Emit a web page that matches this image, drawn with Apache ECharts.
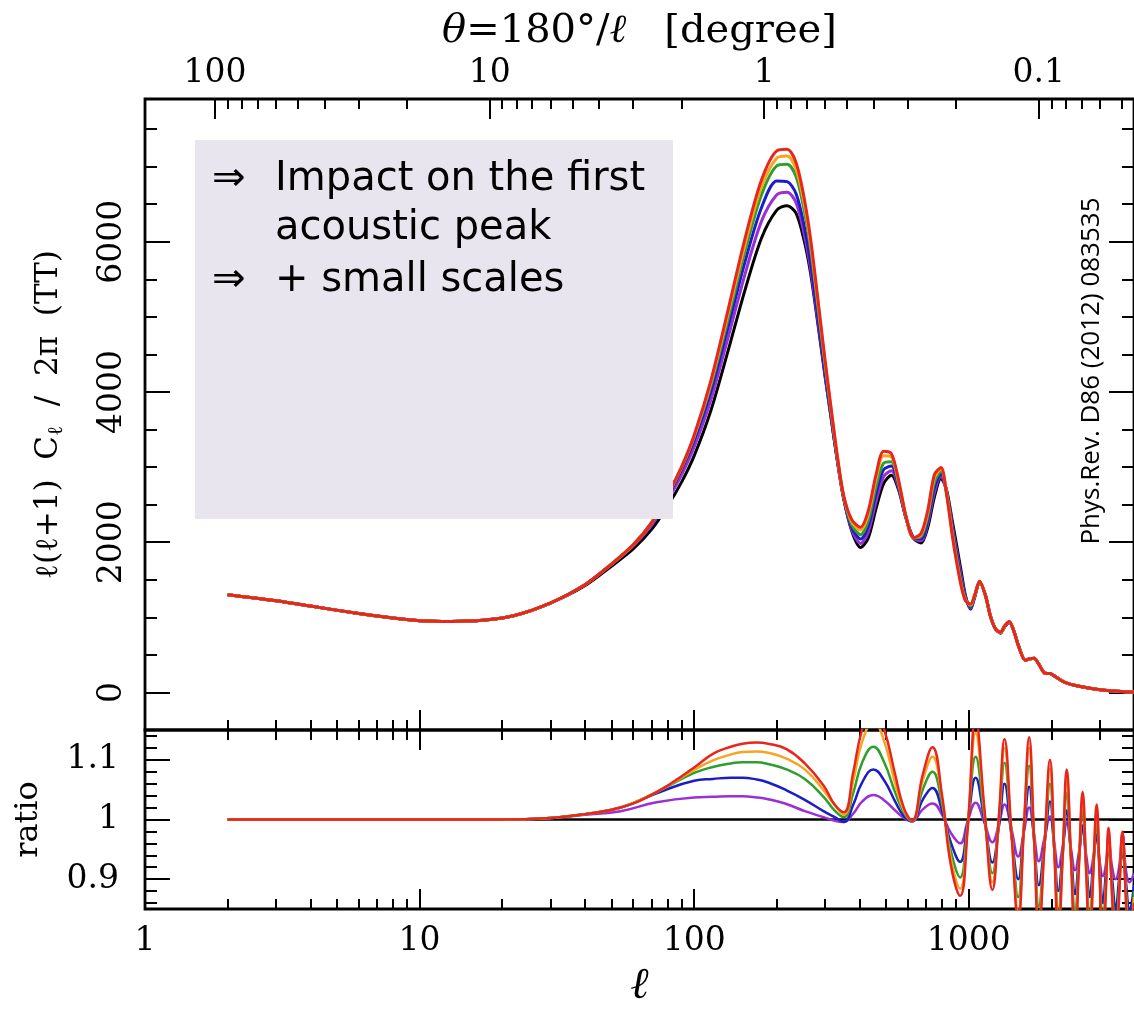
<!DOCTYPE html>
<html>
<head>
<meta charset="utf-8">
<script src="https://cdn.jsdelivr.net/npm/echarts@6/dist/echarts.min.js"></script>
<style>
  html, body { margin: 0; padding: 0; background: #fff; }
  #chart { width: 1134px; height: 1010px; }
</style>
</head>
<body>
<div id="chart"></div>
<script>
// ---- TT spectra l(l+1)C_l/2pi, upper panel ----
const ellSpec = [2,3,4,6,8,10,13,17,22,30, 40,50,60,70,80,90,100,115,133,153,
  176,200,218,235,251,265,280,300,315,332, 350,375,404,430,460,490,523,555,590,630,
  671,710,750,793,830,870,900,940,975,1016, 1050,1096,1150,1200,1250,1305,1350,1405,1460,1520,
  1608,1670,1730,1800,1897,1980,2050,2240,2500,2800, 3200,3700,4000];

const dlBlack = [1300,1220,1150,1050,990,955,945,960,1020,1190, 1420,1680,1910,2170,2480,2800,3150,3750,4550,5350,
  6050,6420,6480,6380,6030,5600,5000,4200,3670,3100, 2600,2150,1930,2050,2450,2780,2890,2700,2330,2050,
  1990,2200,2600,2850,2700,2300,2000,1600,1280,1110, 1260,1470,1300,1020,850,790,870,935,820,620,
  430,445,455,380,255,250,220,135,85,53, 25,10,5];

const dlPurple = [1300,1220,1150,1050,990,955,945,960,1020,1190, 1431,1704,1950,2228,2559,2898,3267,3893,4727,5559,
  6274,6625,6660,6520,6120,5660,5040,4220,3672,3094, 2590,2167,1984,2126,2548,2872,2951,2727,2335,2052,
  2018,2251,2665,2879,2687,2243,1932,1539,1261,1121, 1266,1472,1298,1018,850,792,873,937,820,618,
  430,446,455,379,255,250,220,135,85,53, 25,10,5];

const dlBlue = [1300,1220,1150,1050,990,955,945,960,1020,1190, 1433,1709,1963,2256,2611,2968,3355,4005,4869,5725,
  6455,6810,6800,6640,6230,5740,5100,4250,3690,3100, 2590,2197,2042,2204,2651,2966,3014,2754,2339,2054,
  2046,2301,2730,2907,2673,2199,1880,1493,1248,1138, 1272,1474,1296,1017,849,794,876,938,819,617,
  430,447,455,378,255,250,220,135,85,53, 25,10,5];

const dlGreen = [1300,1220,1150,1050,990,955,945,960,1020,1190, 1433,1709,1965,2260,2624,2990,3396,4080,4973,5864,
  6625,7010,7030,6870,6440,5930,5240,4345,3750,3128, 2610,2232,2100,2276,2744,3052,3072,2781,2346,2056,
  2074,2354,2798,2944,2673,2162,1830,1453,1235,1149, 1278,1476,1294,1015,848,796,879,940,818,615,
  430,448,455,377,255,251,219,135,85,53, 25,10,5];

const dlOrange = [1300,1220,1150,1050,990,955,945,960,1020,1190, 1433,1709,1965,2260,2626,2998,3411,4118,5046,5955,
  6734,7113,7140,6970,6530,6000,5300,4390,3780,3150, 2621,2268,2162,2358,2842,3150,3136,2808,2353,2058,
  2099,2398,2860,2978,2660,2128,1790,1424,1222,1166, 1285,1478,1292,1012,848,798,882,943,816,612,
  430,449,455,376,255,251,219,135,85,53, 25,10,5];

const dlRed = [1300,1220,1150,1050,990,955,945,960,1020,1192, 1433,1709,1965,2261,2629,3004,3424,4148,5096,6035,
  6824,7210,7230,7056,6603,6065,5350,4418,3802,3162, 2631,2300,2200,2409,2903,3211,3179,2835,2358,2060,
  2119,2431,2899,2993,2646,2105,1770,1408,1216,1177, 1290,1480,1290,1010,850,800,885,945,815,610,
  430,450,455,375,255,252,218,135,85,53, 25,10,5];

// ---- ratio to the reference spectrum, lower panel ----
const ellRatio = [2,10,20,29,40,54,73,100,117,136, 150,169,186,217,253,296,325,351,380,409,
  450,493,540,580,622,680,738,800,860,931, 990,1060,1140,1220,1290,1350,1430,1515,1590,1660,
  1730,1800,1890,1977,2050,2120,2200,2275,2360,2440, 2520,2600,2680,2760,2840,2925,3000,3080,3160,3230,
  3330,3430,3530,3630,3740,3850,4000];

const ratioPurple = [1,1,1,1.002,1.008,1.014,1.029,1.037,1.038,1.039, 1.039,1.037,1.034,1.026,1.014,1.004,0.998,0.996,1.010,1.030,
  1.041,1.032,1.015,1.003,0.997,1.017,1.027,1.008,0.978,0.960, 0.996,1.028,0.995,0.962,0.993,1.025,0.985,0.938,0.980,1.020,
  0.975,0.930,0.970,1.005,0.960,0.920,0.955,0.995,0.950,0.915, 0.945,0.985,0.940,0.910,0.935,0.975,0.930,0.905,0.925,0.965,
  0.920,0.900,0.920,0.975,0.915,0.895,0.910];

const ratioBlue = [1,1,1,1.002,1.009,1.020,1.044,1.065,1.068,1.070, 1.070,1.067,1.062,1.049,1.033,1.014,1.004,0.996,1.025,1.062,
  1.084,1.065,1.030,1.006,0.997,1.033,1.053,1.015,0.962,0.929, 0.993,1.070,1.000,0.928,0.990,1.060,0.975,0.900,0.985,1.055,
  0.965,0.890,0.960,1.030,0.950,0.880,0.945,1.015,0.940,0.875, 0.935,0.990,0.925,0.870,0.925,0.975,0.920,0.860,0.910,0.950,
  0.900,0.850,0.900,0.945,0.895,0.845,0.890];

const ratioGreen = [1,1,1,1.002,1.009,1.020,1.046,1.078,1.088,1.094, 1.096,1.096,1.093,1.084,1.068,1.038,1.015,1.004,1.045,1.095,
  1.122,1.095,1.045,1.012,0.997,1.050,1.080,1.025,0.948,0.903, 0.990,1.105,1.005,0.910,1.000,1.095,0.980,0.870,0.990,1.090,
  0.970,0.855,0.960,1.060,0.950,0.845,0.940,1.045,0.935,0.840, 0.930,1.015,0.920,0.830,0.915,0.995,0.910,0.820,0.895,0.960,
  0.885,0.810,0.885,0.955,0.880,0.800,0.880];

const ratioOrange = [1,1,1,1.002,1.009,1.020,1.046,1.083,1.099,1.109, 1.113,1.114,1.112,1.102,1.084,1.049,1.024,1.008,1.065,1.130,
  1.165,1.130,1.060,1.016,0.998,1.065,1.105,1.035,0.935,0.884, 0.985,1.145,1.015,0.895,1.005,1.120,0.980,0.845,0.990,1.120,
  0.970,0.830,0.960,1.085,0.950,0.820,0.940,1.070,0.930,0.810, 0.925,1.035,0.915,0.800,0.910,1.015,0.905,0.790,0.885,0.975,
  0.875,0.780,0.875,0.970,0.870,0.770,0.870];

const ratioRed = [1,1,1,1.002,1.009,1.020,1.046,1.087,1.110,1.122, 1.127,1.129,1.127,1.118,1.094,1.057,1.025,1.012,1.080,1.150,
  1.190,1.150,1.075,1.020,0.998,1.075,1.121,1.040,0.925,0.872, 0.980,1.170,1.020,0.882,1.010,1.135,0.980,0.830,0.990,1.138,
  0.970,0.810,0.960,1.100,0.950,0.800,0.940,1.084,0.930,0.790, 0.920,1.046,0.910,0.780,0.905,1.025,0.900,0.770,0.880,0.986,
  0.870,0.760,0.870,0.980,0.860,0.750,0.860];

const ellRatioRef = [2, 4000];
const ratioBlack = [1, 1];

// ---- tick positions ----
const ellMajorTicks = [1, 10, 100, 1000];
const ellMinorTicks = [2,3,4,5,6,7,8,9, 20,30,40,50,60,70,80,90, 200,300,400,500,600,700,800,900, 2000,3000,4000];
const thetaMajorTicks = [100, 10, 1, 0.1];
const thetaMinorTicks = [90,80,70,60,50,40,30,20, 9,8,7,6,5,4,3,2, 0.9,0.8,0.7,0.6,0.5,0.4,0.3,0.2, 0.09,0.08,0.07,0.06,0.05];
const dlMajorTicks = [0, 2000, 4000, 6000];
const dlMinorTicks = [500,1000,1500,2500,3000,3500,4500,5000,5500,6500,7000,7500];
const ratioMajorTicks = [0.9, 1, 1.1];
const ratioMinorTicks = [0.86,0.88,0.92,0.94,0.96,0.98,1.02,1.04,1.06,1.08,1.12,1.14];

const SERIF = 'DejaVu Serif';
const INK = '#000';
const LONG = 20, SHORT = 10, Y_LONG = 25, Y_SHORT = 12;
const ELL_MAX = 4000;

// theta = 180 deg / l, so a tick at angle t sits at multipole 180/t
const thetaToEll = t => 180 / t;

function xTickAxis(gridIndex, position, values, length, extra) {
  return Object.assign({
    gridIndex, position, type: 'log', logBase: 10, min: 1, max: ELL_MAX,
    axisLine: { show: false, onZero: false },
    splitLine: { show: false },
    axisTick: { show: true, inside: true, length, customValues: values, lineStyle: { color: INK, width: 2 } },
    axisLabel: { show: false }
  }, extra || {});
}

function yTickAxis(gridIndex, position, min, max, values, length, extra) {
  return Object.assign({
    gridIndex, position, type: 'value', min, max,
    axisLine: { show: false, onZero: false },
    splitLine: { show: false },
    axisTick: { show: true, inside: true, length, customValues: values, lineStyle: { color: INK, width: 2 } },
    axisLabel: { show: false }
  }, extra || {});
}

const labelFont = { fontFamily: SERIF, fontSize: 33, color: INK };

const xAxes = [
  // upper panel, bottom edge (data axis)
  xTickAxis(0, 'bottom', ellMajorTicks, LONG),
  xTickAxis(0, 'bottom', ellMinorTicks, SHORT),
  // upper panel, top edge: angular scale
  xTickAxis(0, 'top', thetaMajorTicks.map(thetaToEll), LONG, {
    axisLabel: Object.assign({
      show: true, margin: 9,
      customValues: thetaMajorTicks.map(thetaToEll),
      formatter: v => String(parseFloat((180 / v).toPrecision(6)))
    }, labelFont),
    name: '{it|θ}=180°/{it|ℓ}   [degree]',
    nameLocation: 'middle',
    nameGap: 47,
    nameTextStyle: {
      fontFamily: SERIF, fontSize: 40, color: INK,
      rich: { it: { fontFamily: SERIF, fontSize: 40, fontStyle: 'italic', color: INK } }
    }
  }),
  xTickAxis(0, 'top', thetaMinorTicks.map(thetaToEll), SHORT),
  // lower panel, bottom edge (data axis)
  xTickAxis(1, 'bottom', ellMajorTicks, LONG, {
    axisLabel: Object.assign({
      show: true, margin: 16,
      customValues: ellMajorTicks,
      formatter: v => String(Math.round(v))
    }, labelFont),
    name: 'ℓ',
    nameLocation: 'middle',
    nameGap: 56,
    nameTextStyle: { fontFamily: SERIF, fontSize: 44, fontStyle: 'italic', color: INK }
  }),
  xTickAxis(1, 'bottom', ellMinorTicks, SHORT),
  xTickAxis(1, 'top', ellMajorTicks, LONG),
  xTickAxis(1, 'top', ellMinorTicks, SHORT)
];

const DL_MIN = -500, DL_MAX = 7900;
const R_MIN = 0.85, R_MAX = 1.15;

const yAxes = [
  yTickAxis(0, 'left', DL_MIN, DL_MAX, dlMajorTicks, Y_LONG, {
    axisLabel: Object.assign({
      show: true, rotate: 90, margin: 16,
      customValues: dlMajorTicks,
      formatter: v => String(Math.round(v))
    }, labelFont),
    name: '{t|ℓ(ℓ+1)  C}{s|ℓ}{t|  /  2π  (TT)}',
    nameLocation: 'middle',
    nameRotate: 90,
    nameGap: 78,
    nameTextStyle: {
      color: INK,
      rich: {
        t: { fontFamily: SERIF, fontSize: 31, color: INK },
        s: { fontFamily: SERIF, fontSize: 21, color: INK, verticalAlign: 'bottom', padding: [15, 0, 0, 0] }
      }
    }
  }),
  yTickAxis(0, 'left', DL_MIN, DL_MAX, dlMinorTicks, Y_SHORT),
  yTickAxis(0, 'right', DL_MIN, DL_MAX, dlMajorTicks, Y_LONG),
  yTickAxis(0, 'right', DL_MIN, DL_MAX, dlMinorTicks, Y_SHORT),
  yTickAxis(1, 'left', R_MIN, R_MAX, ratioMajorTicks, Y_LONG, {
    axisLabel: Object.assign({
      show: true, margin: 26,
      customValues: ratioMajorTicks,
      formatter: v => String(parseFloat(v.toFixed(2)))
    }, labelFont),
    name: 'ratio',
    nameLocation: 'middle',
    nameRotate: 90,
    nameGap: 100,
    nameTextStyle: { fontFamily: SERIF, fontSize: 32, color: INK }
  }),
  yTickAxis(1, 'left', R_MIN, R_MAX, ratioMinorTicks, Y_SHORT),
  yTickAxis(1, 'right', R_MIN, R_MAX, ratioMajorTicks, Y_LONG),
  yTickAxis(1, 'right', R_MIN, R_MAX, ratioMinorTicks, Y_SHORT)
];

const pairs = (xs, ys) => xs.map((x, i) => [x, ys[i]]);

const COLORS = {
  black: '#000000',
  purple: '#9b2fd6',
  blue: '#1c1cc8',
  green: '#2e9e2e',
  orange: '#f7a51e',
  red: '#e8261c'
};

function spectrum(name, values, color) {
  return {
    name, type: 'line', xAxisIndex: 0, yAxisIndex: 0,
    data: pairs(ellSpec, values),
    smooth: 0.3, showSymbol: false, symbol: 'none',
    lineStyle: { color, width: 3 }, itemStyle: { color },
    silent: true, z: 2
  };
}

function ratio(name, xs, values, color, width) {
  return {
    name, type: 'line', xAxisIndex: 4, yAxisIndex: 4,
    data: pairs(xs, values),
    smooth: 0.45, showSymbol: false, symbol: 'none',
    lineStyle: { color, width }, itemStyle: { color },
    silent: true, z: 2
  };
}

const series = [
  spectrum('reference', dlBlack, COLORS.black),
  spectrum('purple', dlPurple, COLORS.purple),
  spectrum('blue', dlBlue, COLORS.blue),
  spectrum('green', dlGreen, COLORS.green),
  spectrum('orange', dlOrange, COLORS.orange),
  spectrum('red', dlRed, COLORS.red),
  ratio('reference ratio', ellRatioRef, ratioBlack, COLORS.black, 2.5),
  ratio('purple ratio', ellRatio, ratioPurple, COLORS.purple, 2.5),
  ratio('blue ratio', ellRatio, ratioBlue, COLORS.blue, 2.5),
  ratio('green ratio', ellRatio, ratioGreen, COLORS.green, 2.5),
  ratio('orange ratio', ellRatio, ratioOrange, COLORS.orange, 2.5),
  ratio('red ratio', ellRatio, ratioRed, COLORS.red, 2.5)
];

const NOTE_FONT = 'DejaVu Sans';
const noteText = (x, y, text) => ({
  type: 'text', x, y, z: 60,
  style: { text, fontFamily: NOTE_FONT, fontSize: 40, fill: '#000', verticalAlign: 'middle', align: 'left' }
});

const option = {
  animation: false,
  backgroundColor: '#ffffff',
  grid: [
    { left: 145, top: 99, width: 998, height: 631, show: true, borderColor: INK, borderWidth: 2.8, backgroundColor: 'transparent' },
    { left: 145, top: 730, width: 998, height: 189, show: true, borderColor: INK, borderWidth: 2.8, backgroundColor: 'transparent' }
  ],
  xAxis: xAxes,
  yAxis: yAxes,
  series,
  graphic: [
    { type: 'rect', z: 50, shape: { x: 195, y: 140, width: 478, height: 379 }, style: { fill: '#e9e5ef' } },
    noteText(212, 180, '⇒'),
    noteText(275, 180, 'Impact on the first'),
    noteText(275, 229, 'acoustic peak'),
    noteText(212, 281, '⇒'),
    noteText(275, 281, '+ small scales'),
    {
      type: 'text', x: 1092, y: 371, rotation: Math.PI / 2, z: 60,
      style: { text: 'Phys.Rev. D86 (2012) 083535', fontFamily: 'Open Sans', fontSize: 26, fill: '#000', align: 'center', verticalAlign: 'middle' }
    }
  ]
};

const chart = echarts.init(document.getElementById('chart'), null, { renderer: 'canvas' });
chart.setOption(option);
</script>
</body>
</html>
